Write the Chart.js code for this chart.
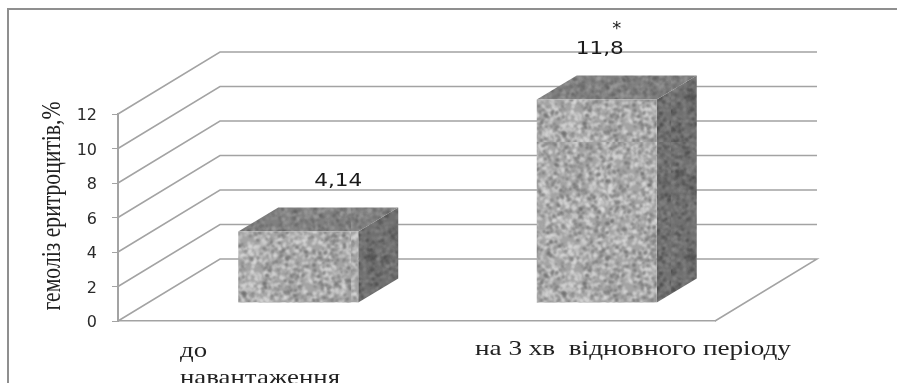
<!DOCTYPE html>
<html>
<head>
<meta charset="utf-8">
<title>Гемоліз еритроцитів</title>
<script src="https://cdn.jsdelivr.net/npm/chart.js@4"></script>
<style>
  html, body { margin: 0; padding: 0; background: #fff; overflow: hidden; }
  #wrap { width: 897px; height: 383px; }
</style>
</head>
<body>
<div id="wrap"><canvas id="chartHemolysis" width="897" height="383"></canvas></div>
<script>
// Data
const categories = [['до', 'навантаження'], ['на 3 хв  відновного періоду']];
const hemolysis = [4.14, 11.8];
const valueLabels = ['4,14', '11,8'];
const marks = ['', '*'];
const axisTitle = 'гемоліз еритроцитів,%';

// 3D look: how far the back wall and the bar depth are shifted
const wall = { dx: 102, dy: -62 };
const barDepth = { dx: 40, dy: -24 };
const barShift = { dx: 31, dy: -18 };
const lineColor = '#a3a3a3';

// Speckled texture for bar faces (fixed seed, only a fill style)
function crearTextura(base, dark, light, seed, size) {
  const c = document.createElement('canvas');
  c.width = 160;
  c.height = 160;
  const g = c.getContext('2d');
  let s = seed;
  const next = () => {
    s = (s * 16807) % 2147483647;
    return s / 2147483647;
  };
  const manchas = (color, count, grow) => {
    g.fillStyle = color;
    for (let i = 0; i < count; i++) {
      g.beginPath();
      g.ellipse(next() * 160, next() * 160, 0.7 + next() * grow, 0.6 + next() * 0.7, next() * 3.14, 0, 6.3);
      g.fill();
    }
  };
  g.fillStyle = base;
  g.fillRect(0, 0, 160, 160);
  g.filter = 'blur(0.8px)';
  manchas(light, 2000, size);
  manchas(dark, 1100, 0.8);
  return g.createPattern(c, 'repeat');
}

const texFront = crearTextura('#a4a4a4', '#5e5e5e', '#dedede', 1234, 2.2);
const texTop = crearTextura('#808080', '#575757', '#a2a2a2', 777, 1.4);
const texSide = crearTextura('#707070', '#3e3e3e', '#8e8e8e', 4242, 1);

// Text stretched in width, the original figure is stretched too
function textoAncho(ctx, text, x, y, stretch) {
  ctx.save();
  ctx.translate(x, y);
  ctx.scale(stretch, 1);
  ctx.fillText(text, 0, 0);
  ctx.restore();
}

// Frame, back wall and floor, behind everything else
const wallPlugin = {
  id: 'wallPlugin',
  beforeDatasetsDraw(chart) {
    const { ctx, scales } = chart;
    const { left, right } = chart.chartArea;
    ctx.save();
    ctx.strokeStyle = '#8f8f8f';
    ctx.lineWidth = 2;
    ctx.beginPath();
    ctx.moveTo(8, 383);
    ctx.lineTo(8, 9);
    ctx.lineTo(897, 9);
    ctx.stroke();

    ctx.strokeStyle = lineColor;
    ctx.lineWidth = 1.5;
    scales.y.ticks.forEach(t => {
      const y = scales.y.getPixelForValue(t.value);
      ctx.beginPath();
      ctx.moveTo(left, y);
      ctx.lineTo(left + wall.dx, y + wall.dy);
      ctx.lineTo(right + wall.dx, y + wall.dy);
      if (t.value === 0) ctx.lineTo(right, y);
      ctx.stroke();
    });
    ctx.restore();
  }
};

// Bar top and side faces; the front face comes from the library
const cuboPlugin = {
  id: 'cuboPlugin',
  beforeDatasetsDraw(chart) {
    const { ctx } = chart;
    ctx.save();
    ctx.translate(barShift.dx, barShift.dy);
    chart.getDatasetMeta(0).data.forEach(el => {
      const l = el.x - el.width / 2;
      const r = el.x + el.width / 2;
      ctx.fillStyle = texSide;
      ctx.beginPath();
      ctx.moveTo(r, el.y);
      ctx.lineTo(r + barDepth.dx, el.y + barDepth.dy);
      ctx.lineTo(r + barDepth.dx, el.base + barDepth.dy);
      ctx.lineTo(r, el.base);
      ctx.closePath();
      ctx.fill();
      ctx.fillStyle = texTop;
      ctx.beginPath();
      ctx.moveTo(l, el.y);
      ctx.lineTo(l + barDepth.dx, el.y + barDepth.dy);
      ctx.lineTo(r + barDepth.dx, el.y + barDepth.dy);
      ctx.lineTo(r, el.y);
      ctx.closePath();
      ctx.fill();
    });
  },
  afterDatasetsDraw(chart) {
    chart.ctx.restore();
  }
};

// Texts placed by hand like in the original figure
const textosPlugin = {
  id: 'textosPlugin',
  afterDraw(chart) {
    const { ctx } = chart;
    const bars = chart.getDatasetMeta(0).data;
    ctx.save();
    ctx.textBaseline = 'alphabetic';

    ctx.fillStyle = '#1a1a1a';
    ctx.font = '18px "DejaVu Sans"';
    ctx.textAlign = 'center';
    textoAncho(ctx, valueLabels[0], bars[0].x + 71, bars[0].y - 64, 1.2);
    textoAncho(ctx, valueLabels[1], bars[1].x + 34, bars[1].y - 63, 1.2);
    ctx.fillText(marks[1], bars[1].x + 51, bars[1].y - 83);

    ctx.fillStyle = '#222';
    ctx.textAlign = 'left';
    ctx.font = '22px "Liberation Serif"';
    textoAncho(ctx, categories[0][0], 180, 357, 1.22);
    textoAncho(ctx, categories[0][1], 180, 384, 1.22);
    textoAncho(ctx, categories[1][0], 475, 355, 1.235);

    // rotated, so the stretch goes across the letters here
    ctx.translate(60, 206);
    ctx.rotate(-Math.PI / 2);
    ctx.scale(0.985, 1.2);
    ctx.textAlign = 'center';
    ctx.fillText(axisTitle, 0, 0);
    ctx.restore();
  }
};

new Chart(document.getElementById('chartHemolysis').getContext('2d'), {
  type: 'bar',
  data: {
    labels: categories,
    datasets: [{
      data: hemolysis,
      backgroundColor: texFront,
      borderWidth: 0,
      barPercentage: 0.67,
      categoryPercentage: 0.6
    }]
  },
  plugins: [wallPlugin, cuboPlugin, textosPlugin],
  options: {
    responsive: false,
    animation: false,
    layout: { padding: { left: 0, top: 114, right: 182, bottom: 62 } },
    plugins: { legend: { display: false }, tooltip: { enabled: false } },
    scales: {
      x: {
        ticks: { display: false },
        grid: { drawOnChartArea: false, drawTicks: false },
        border: { color: lineColor, width: 1.5 }
      },
      y: {
        min: 0,
        max: 12,
        afterFit(axis) { axis.width = 118; },
        afterUpdate(axis) {
          // digits sit a bit high on textBaseline middle
          if (axis.drawLabelsOrig) return;
          axis.drawLabelsOrig = axis.drawLabels;
          axis.drawLabels = function (area) {
            this.ctx.save();
            this.ctx.translate(0, 2);
            this.drawLabelsOrig(area);
            this.ctx.restore();
          };
        },
        ticks: {
          stepSize: 2,
          padding: 15,
          color: '#2a2a2a',
          font: { family: '"DejaVu Sans"', size: 16 }
        },
        grid: { drawOnChartArea: false, tickLength: 6, tickColor: lineColor },
        border: { color: lineColor, width: 2 }
      }
    }
  }
});
</script>
</body>
</html>
